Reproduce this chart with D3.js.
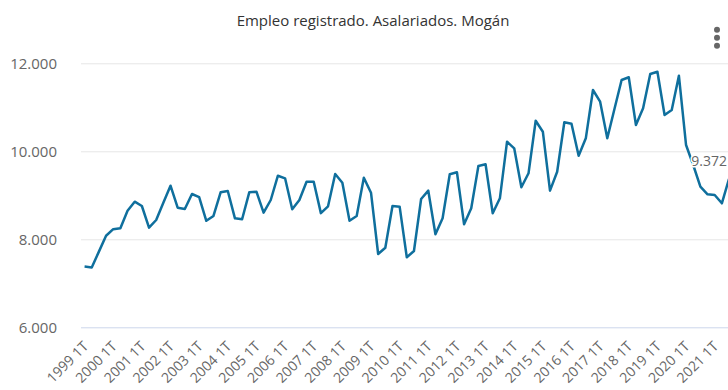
<!DOCTYPE html>
<html>
<head>
<meta charset="utf-8">
<script src="https://cdn.jsdelivr.net/npm/d3@7"></script>
<style>
  html, body { margin: 0; padding: 0; background: #fff; overflow: hidden; }
  svg { display: block; font-family: "Open Sans", "Noto Sans", sans-serif; }
</style>
</head>
<body>
<svg id="chart" width="728" height="390"></svg>
<script>
// Quarterly registered salaried employment, 1999 1T .. 2021 3T
const years = d3.range(1999, 2022);
const quarters = ["1T", "2T", "3T", "4T"];
const categories = [];
years.forEach(y => quarters.forEach(q => categories.push(y + " " + q)));
categories.splice(91); // series ends at 2021 3T

const values = [
  7380, 7360, 7720, 8080, 8230, 8250, 8650, 8855, 8757, 8264,
  8439, 8832, 9218, 8718, 8689, 9030, 8960, 8420, 8530, 9068,
  9098, 8477, 8455, 9068, 9082, 8605, 8893, 9445, 9386, 8682,
  8893, 9309, 9309, 8595, 8750, 9484, 9286, 8423, 8530, 9400,
  9059, 7666, 7809, 8757, 8741, 7591, 7734, 8916, 9105, 8114,
  8477, 9480, 9523, 8341, 8705, 9666, 9705, 8591, 8932, 10218,
  10068, 9182, 9500, 10695, 10445, 9105, 9536, 10659, 10625, 9900,
  10295, 11393, 11127, 10295, 10961, 11620, 11682, 10598, 10977, 11757,
  11809, 10825, 10939, 11718, 10143, 9689, 9195, 9023, 9007, 8818,
  9372
];

const yTicks = [6000, 8000, 10000, 12000];
const xTickLabels = categories.filter(c => c.endsWith("1T"));
const titleText = "Empleo registrado. Asalariados. Mogán";

const svg = d3.select("#chart");
const plot = { left: 81, right: 732.6, top: 63.3, bottom: 327.3 };

const x = d3.scalePoint()
  .domain(categories)
  .range([plot.left, plot.right])
  .padding(0.5);

const y = d3.scaleLinear()
  .domain([6000, 12000])
  .range([plot.bottom, plot.top]);

const fmt = v => d3.format(",")(v).replace(/,/g, ".");

// title
svg.append("text")
  .attr("x", 373)
  .attr("y", 26)
  .attr("text-anchor", "middle")
  .attr("fill", "#333333")
  .style("font-size", "15px")
  .text(titleText);

// context menu dots
svg.append("g").selectAll("circle")
  .data([0, 1, 2])
  .join("circle")
  .attr("cx", 717)
  .attr("cy", d => 29.7 + d * 8)
  .attr("r", 3)
  .attr("fill", "#666666");

// horizontal gridlines and value labels
const yAxis = d3.axisLeft(y)
  .tickValues(yTicks)
  .tickSize(-(plot.right - plot.left) - 20)
  .tickPadding(24)
  .tickFormat(fmt);

const gy = svg.append("g")
  .attr("transform", `translate(${plot.left},0)`)
  .call(yAxis);
gy.select(".domain").remove();
gy.selectAll(".tick line")
  .attr("stroke", d => d === 6000 ? "#ccd6eb" : "#e6e6e6")
  .attr("stroke-width", 1);
gy.selectAll(".tick text")
  .attr("fill", "#666666")
  .style("font-size", "15px")
  .style("font-family", "\"Open Sans\", sans-serif");

// category labels, rotated
const xAxis = d3.axisBottom(x)
  .tickValues(xTickLabels)
  .tickSize(0)
  .tickPadding(0);

const gx = svg.append("g")
  .attr("transform", `translate(0,${plot.bottom})`)
  .call(xAxis);
gx.select(".domain").remove();
gx.selectAll(".tick text")
  .attr("fill", "#666666")
  .style("font-size", "14px")
  .style("font-family", "\"Open Sans\", sans-serif")
  .attr("text-anchor", "end")
  .attr("dy", null)
  .attr("y", 0)
  .attr("transform", "translate(4,20) rotate(-45)");

// series line
const line = d3.line()
  .x((d, i) => x(categories[i]))
  .y(d => y(d));

svg.append("path")
  .datum(values)
  .attr("fill", "none")
  .attr("stroke", "#0f6f9d")
  .attr("stroke-width", 2.5)
  .attr("stroke-linejoin", "round")
  .attr("d", line);

// data label on the last point, kept inside the visible area
const last = values.length - 1;
svg.append("text")
  .attr("x", 727)
  .attr("y", y(values[last]) - 13)
  .attr("text-anchor", "end")
  .attr("fill", "#666666")
  .attr("stroke", "#ffffff")
  .attr("stroke-width", 3)
  .attr("paint-order", "stroke")
  .style("font-size", "14px")
  .text(fmt(values[last]));
</script>
</body>
</html>
